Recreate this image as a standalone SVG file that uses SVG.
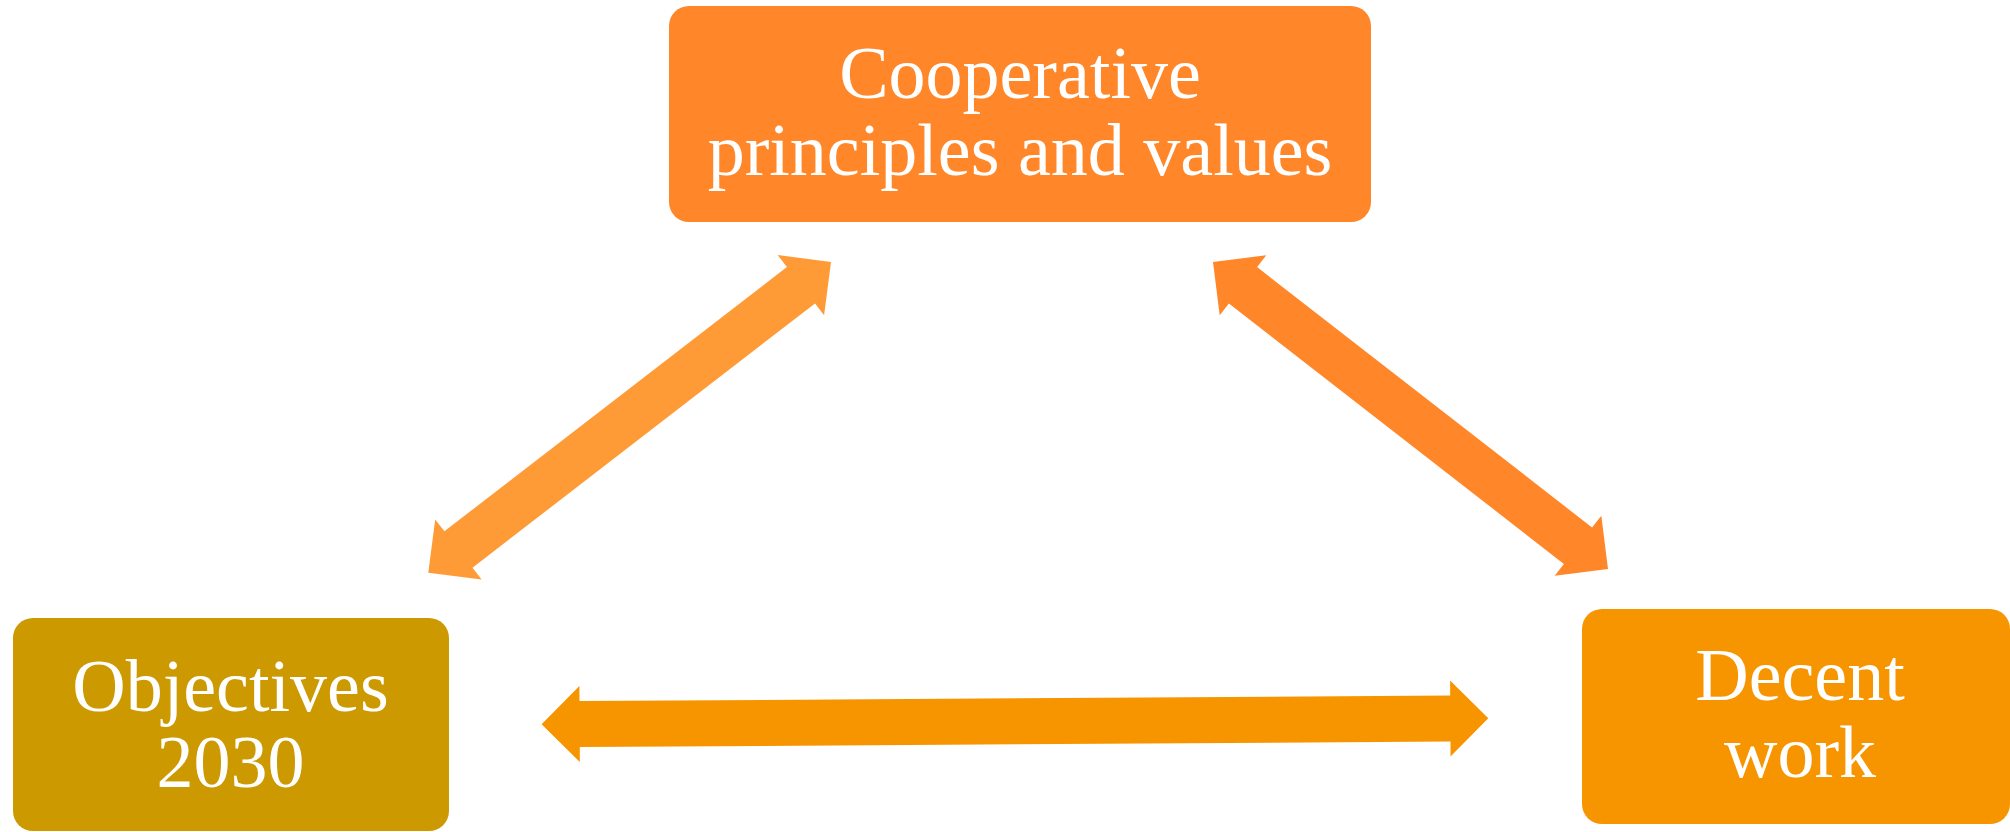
<svg xmlns="http://www.w3.org/2000/svg" width="2010" height="832" viewBox="0 0 2010 832">
<style>
.lbl{font-family:"Liberation Serif","Times New Roman",serif;font-size:74px;fill:#FFFFFF;text-anchor:middle}
</style>
<rect width="2010" height="832" fill="#FFFFFF"/>
<g id="connectors">
<polygon id="arrow-left" fill="#FF9B36" points="428.3,572.7 435.2,519.4 444.4,531.3 786.9,267.0 777.7,255.1 831,262 824.1,315.3 815.0,303.4 472.5,567.7 481.6,579.6"/>
<polygon id="arrow-right" fill="#FF8629" points="1213,262 1266.3,255.3 1257.1,267.1 1592.1,527.5 1601.3,515.7 1608,569 1554.7,575.7 1563.9,563.9 1228.9,303.5 1219.7,315.3"/>
<polygon id="arrow-bottom" fill="#F79500" points="541.6,724.3 579.4,686.1 579.5,701.1 1450.2,695.5 1450.1,680.5 1488.3,718.3 1450.5,756.5 1450.5,741.5 579.8,747.1 579.8,762.1"/>
</g>
<g id="node-cooperative">
<rect x="669" y="6" width="702" height="216" rx="20" fill="#FF8629"/>
<text class="lbl" x="1020" y="97.7">Cooperative</text>
<text class="lbl" x="1020" y="175">principles and values</text>
</g>
<g id="node-objectives">
<rect x="13" y="618" width="436" height="213" rx="20" fill="#CC9900"/>
<text class="lbl" x="230.5" y="711">Objectives</text>
<text class="lbl" x="230.5" y="787">2030</text>
</g>
<g id="node-decent">
<rect x="1582" y="609" width="428" height="215" rx="20" fill="#F79500"/>
<text class="lbl" x="1800" y="700">Decent</text>
<text class="lbl" x="1800" y="777">work</text>
</g>
</svg>
